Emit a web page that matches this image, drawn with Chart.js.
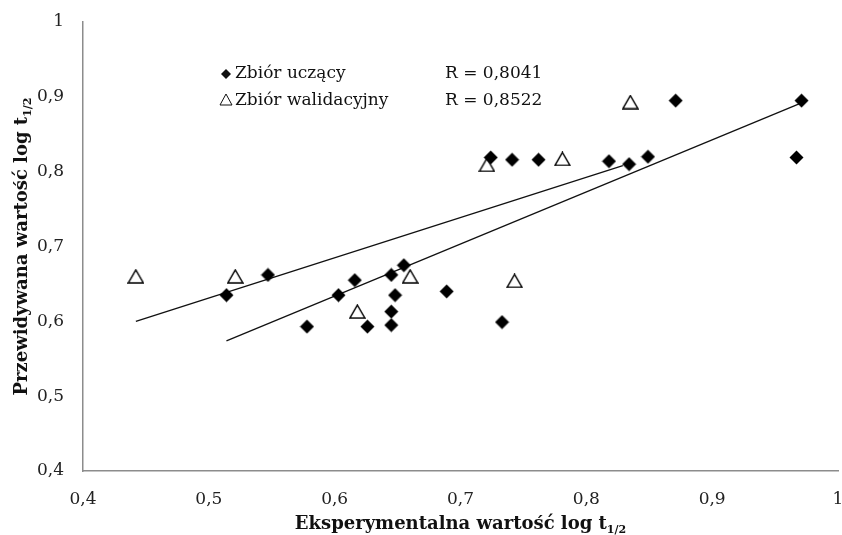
<!DOCTYPE html>
<html>
<head>
<meta charset="utf-8">
<script src="https://cdn.jsdelivr.net/npm/chart.js@4"></script>
<style>
    body { margin: 0; background: #fff; }
    #wrap { width: 842px; height: 535px; position: relative; }
</style>
</head>
<body>
<div id="wrap"><canvas id="chart"></canvas></div>
<script>
// dane
const trainX = [0.514, 0.547, 0.578, 0.603, 0.616, 0.626, 0.645, 0.648, 0.645, 0.645, 0.655, 0.689, 0.733, 0.724, 0.741, 0.762, 0.818, 0.834, 0.849, 0.871, 0.971, 0.967];
const trainY = [0.635, 0.662, 0.593, 0.635, 0.655, 0.593, 0.662, 0.635, 0.613, 0.595, 0.675, 0.640, 0.599, 0.819, 0.816, 0.816, 0.814, 0.810, 0.820, 0.895, 0.895, 0.819];
const validX = [0.442, 0.521, 0.618, 0.660, 0.743, 0.721, 0.781, 0.835];
const validY = [0.660, 0.660, 0.613, 0.660, 0.654, 0.809, 0.817, 0.893];
const trend1X = [0.442, 0.829];
const trend1Y = [0.600, 0.808];
const trend2X = [0.514, 0.971];
const trend2Y = [0.574, 0.892];
const xTicks = [0.4, 0.5, 0.6, 0.7, 0.8, 0.9, 1];
const yTicks = [0.4, 0.5, 0.6, 0.7, 0.8, 0.9, 1];
const legendLabels = ['Zbiór uczący', 'Zbiór walidacyjny'];
const legendR = ['R = 0,8041', 'R = 0,8522'];

const SERIF = '"DejaVu Serif", serif';

const toPoints = (xs, ys) => xs.map((x, i) => ({ x: x, y: ys[i] }));
const fmt = v => v === 1 ? '1' : v.toFixed(1).replace('.', ',');

// znaczniki rysowane na małych canvasach (nie powiększają marginesu wykresu)
function makeMarker(w, h, drawFn) {
    let cv = document.createElement('canvas');
    cv.width = w; cv.height = h;
    drawFn(cv.getContext('2d'), w, h);
    return cv;
}
const diamondImg = makeMarker(15, 15, (c, w, h) => {
    c.fillStyle = '#000';
    c.beginPath();
    c.moveTo(7.5, 0.5); c.lineTo(14.5, 7.5); c.lineTo(7.5, 14.5); c.lineTo(0.5, 7.5);
    c.closePath();
    c.fill();
});
const triangleImg = makeMarker(17, 15, (c, w, h) => {
    c.fillStyle = '#fff';
    c.strokeStyle = '#000';
    c.lineWidth = 1.5;
    c.beginPath();
    c.moveTo(8.5, 1); c.lineTo(16, 14); c.lineTo(1, 14);
    c.closePath();
    c.fill();
    c.stroke();
});

// tekst z indeksem dolnym "1/2"
function drawSubText(ctx, main, sub, x, y, size, bold) {
    let w = bold ? 'bold ' : '';
    ctx.font = w + size + 'px ' + SERIF;
    let mw = ctx.measureText(main).width;
    ctx.font = w + Math.round(size * 0.62) + 'px ' + SERIF;
    let sw = ctx.measureText(sub).width;
    let start = x - (mw + sw) / 2;
    ctx.textAlign = 'left';
    ctx.textBaseline = 'alphabetic';
    ctx.font = w + size + 'px ' + SERIF;
    ctx.fillText(main, start, y);
    ctx.font = w + Math.round(size * 0.62) + 'px ' + SERIF;
    ctx.fillText(sub, start + mw, y + size * 0.2);
}

const extrasPlugin = {
    id: 'extras',
    afterDraw(chart) {
        const ctx = chart.ctx;
        const area = chart.chartArea;
        ctx.save();
        ctx.fillStyle = '#111';

        // tytuły osi
        drawSubText(ctx, 'Eksperymentalna wartość log t', '1/2', (area.left + area.right) / 2, 529, 18, true);
        ctx.save();
        ctx.translate(27, (area.top + area.bottom) / 2);
        ctx.rotate(-Math.PI / 2);
        drawSubText(ctx, 'Przewidywana wartość log t', '1/2', 0, 0, 18, true);
        ctx.restore();

        // legenda
        ctx.font = '17px ' + SERIF;
        ctx.textAlign = 'left';
        ctx.textBaseline = 'middle';
        ctx.fillText(legendLabels[0], 235, 74);
        ctx.fillText(legendLabels[1], 235, 101);
        ctx.fillText(legendR[0], 445, 74);
        ctx.fillText(legendR[1], 445, 101);

        ctx.beginPath();
        ctx.moveTo(226, 69); ctx.lineTo(231, 74); ctx.lineTo(226, 79); ctx.lineTo(221, 74);
        ctx.closePath();
        ctx.fill();

        ctx.beginPath();
        ctx.moveTo(226, 94); ctx.lineTo(232, 105); ctx.lineTo(220, 105);
        ctx.closePath();
        ctx.strokeStyle = '#111';
        ctx.lineWidth = 1;
        ctx.stroke();
        ctx.restore();
    }
};

new Chart(document.getElementById('chart'), {
    type: 'scatter',
    data: {
        datasets: [
            { label: legendLabels[0], data: toPoints(trainX, trainY), pointStyle: diamondImg, pointRadius: 2, borderWidth: 0, order: 1 },
            { label: legendLabels[1], data: toPoints(validX, validY), pointStyle: triangleImg, pointRadius: 2, borderWidth: 0, order: 2 },
            { type: 'line', data: toPoints(trend1X, trend1Y), borderColor: '#111', borderWidth: 1.3, pointRadius: 0, fill: false, order: 3 },
            { type: 'line', data: toPoints(trend2X, trend2Y), borderColor: '#111', borderWidth: 1.3, pointRadius: 0, fill: false, order: 3 }
        ]
    },
    options: {
        responsive: true,
        maintainAspectRatio: false,
        animation: false,
        layout: { padding: { top: 22, right: 3, left: 0, bottom: 0 } },
        plugins: { legend: { display: false }, tooltip: { enabled: false } },
        scales: {
            x: {
                type: 'linear', min: 0.4, max: 1,
                afterBuildTicks: s => { s.ticks = xTicks.map(v => ({ value: v })); },
                afterFit: s => { s.height = 64; s.paddingLeft = 0; s.paddingRight = 0; },
                grid: { display: false, drawTicks: false },
                border: { display: true, color: '#8c8c8c', width: 1.5 },
                ticks: { callback: fmt, color: '#222', padding: 18, maxRotation: 0, font: { family: SERIF, size: 17 } }
            },
            y: {
                type: 'linear', min: 0.4, max: 1,
                afterBuildTicks: s => { s.ticks = yTicks.map(v => ({ value: v })); },
                afterFit: s => { s.width = 83; s.paddingTop = 0; s.paddingBottom = 0; },
                grid: { display: false, drawTicks: false },
                border: { display: true, color: '#8c8c8c', width: 1.5 },
                ticks: { callback: fmt, color: '#222', padding: 19, font: { family: SERIF, size: 17 } }
            }
        }
    },
    plugins: [extrasPlugin]
});
</script>
</body>
</html>
